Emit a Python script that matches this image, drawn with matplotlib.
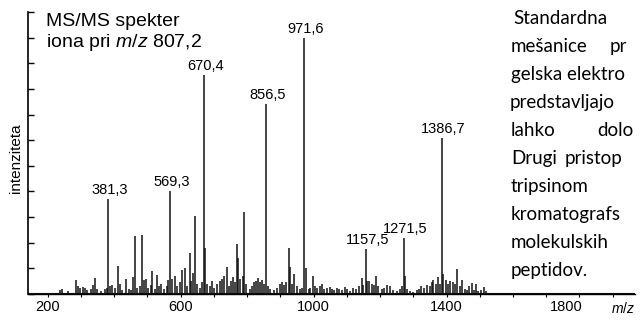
import numpy as np
import matplotlib.pyplot as plt
import matplotlib.transforms as mtransforms

plt.rcParams['font.family'] = ['Liberation Sans', 'DejaVu Sans']
plt.rcParams['mathtext.fontset'] = 'custom'
plt.rcParams['mathtext.it'] = 'Liberation Sans:italic'
plt.rcParams['mathtext.rm'] = 'Liberation Sans'

# peak list (m/z, relative intensity)
mz = [236, 243, 262, 285, 291, 298, 305, 312, 318, 330, 338, 342, 348, 360, 372, 378,
      381.3, 388, 395, 402, 412, 418, 425, 436, 446, 452, 458, 463, 470, 478, 485, 490,
      495, 502, 510, 515, 522, 528, 535, 542, 550, 558, 563, 569.3, 575, 582, 590, 598,
      604, 612, 620, 627, 632, 636, 642, 650, 658, 665, 670.4, 673, 680, 688, 695, 702,
      710, 718, 725, 732, 740, 746, 752, 758, 764, 770, 773, 780, 788, 791, 798, 808,
      815, 822, 828, 833, 838, 845, 850, 856.5, 862, 870, 880, 890, 898, 905, 912, 918,
      927, 930, 936, 942, 950, 958, 965, 971.6, 976, 985, 990, 997, 1003, 1010, 1018,
      1024, 1030, 1040, 1048, 1055, 1062, 1070, 1078, 1085, 1095, 1102, 1110, 1120,
      1128, 1138, 1145, 1150, 1157.5, 1162, 1167, 1175, 1182, 1188, 1195, 1205, 1212,
      1221, 1230, 1240, 1250, 1260, 1265, 1271.5, 1275, 1282, 1290, 1300, 1310, 1318,
      1324, 1332, 1340, 1350, 1355, 1360, 1368, 1373, 1380, 1386.7, 1390, 1398, 1404,
      1409, 1418, 1425, 1433, 1440, 1448, 1455, 1462, 1468, 1476, 1482, 1488, 1495,
      1503, 1512, 1520]
intensity = [1.6, 2.0, 1.0, 5.5, 3.0, 2.5, 2.8, 2.2, 1.5, 2.0, 3.5, 6.2, 2.0, 1.2, 1.8, 2.5,
             37, 3.0, 3.5, 2.2, 11, 4.0, 1.5, 6.0, 2.0, 1.5, 6.5, 22.5, 2.5, 3.0, 23, 5.5,
             6.0, 2.5, 3.5, 9, 2.0, 7.5, 3.0, 4.0, 2.0, 3.0, 5.5, 40, 6.0, 7.0, 3.0, 4.5,
             9.5, 10, 3.0, 16, 5.0, 8.2, 30.5, 4.0, 2.5, 4.5, 85.5, 18, 4.0, 3.0, 5.0, 2.5,
             4.0, 5.0, 6.0, 7.0, 10.5, 3.0, 5.0, 6.6, 4.5, 19.5, 14, 6.0, 7.0, 32, 4.0, 2.0,
             3.0, 4.5, 5.0, 6.2, 4.5, 5.5, 4.0, 74, 3.0, 2.0, 1.5, 2.5, 4.0, 4.5, 3.5, 4.5,
             18, 10.5, 4.0, 7.8, 3.0, 2.0, 2.5, 100, 10, 2.0, 2.5, 7.0, 3.0, 2.5, 3.0,
             4.0, 2.0, 2.5, 2.8, 2.0, 1.5, 2.5, 2.0, 1.5, 2.8, 2.0, 1.2, 2.5,
             1.8, 3.0, 6.2, 3.5, 17.5, 5.0, 5.0, 4.0, 3.5, 7.0, 3.0, 2.0, 2.5,
             3.5, 3.0, 1.5, 1.0, 2.0, 3.0, 22, 7.0, 2.0, 1.0, 0.8, 1.5, 2.0,
             3.0, 2.5, 3.5, 3.0, 4.5, 5.4, 4.0, 6.6, 4.0, 61, 7.8, 5.5, 4.0,
             5.0, 4.5, 4.0, 9.7, 3.0, 5.4, 2.0, 1.5, 3.0, 4.3, 1.5, 4.0, 1.0,
             1.5, 2.7, 1.0]

labeled = [381.3, 569.3, 670.4, 856.5, 971.6, 1157.5, 1271.5, 1386.7]

xticks = [200, 600, 1000, 1400, 1800]

text_lines = [
    ['Standardna'],
    ['mešanice', 'pr'],
    ['gelska elektro'],
    ['predstavljajo'],
    ['lahko', 'dolo'],
    ['Drugi', 'pristop'],
    ['tripsinom'],
    ['kromatografs'],
    ['molekulskih'],
    ['peptidov.'],
]
word_x = [[513], [511, 610], [511], [510], [511, 597], [511, 565], [511], [511], [511], [511]]

W, H = 641, 320
fig = plt.figure(figsize=(W / 100, H / 100), dpi=100)
ax = fig.add_axes([28 / W, 1 - 294 / H, 607 / W, 282 / H])

ax.vlines(mz, 0, intensity, color='#111111', linewidth=1.1)
ax.axhline(0.3, color='#111111', linewidth=0.8)

for m in labeled:
    h = intensity[mz.index(m)]
    ax.annotate(f'{m:.1f}'.replace('.', ','), (m, h), xytext=(1, 1.5),
                textcoords='offset points', ha='center', va='bottom', fontsize=10.5)

ax.set_xlim(141, 1967)
ax.set_ylim(0, 110)
ax.set_yticks(np.arange(0, 111, 10))
ax.set_yticklabels([])
ax.tick_params(axis='y', direction='in', length=4, width=1)
ax.set_xticks(xticks)
ax.set_xticklabels([str(t) for t in xticks], fontsize=10.5)
ax.set_xticks(np.arange(200, 1901, 100), minor=True)
ax.tick_params(axis='x', which='both', direction='out', length=2, width=0.8, pad=2.5)
for s in ['top', 'right']:
    ax.spines[s].set_visible(False)
ax.spines['left'].set_linewidth(1.2)
ax.spines['bottom'].set_linewidth(1.0)

# last tick label sits a bit to the left of its tick
lbl = ax.get_xticklabels()[-1]
lbl.set_transform(lbl.get_transform() + mtransforms.ScaledTranslation(-13 / 100, 0, fig.dpi_scale_trans))

ax.text(1930, -0.05, '$m/z$', transform=ax.get_xaxis_transform(), ha='center', va='center', fontsize=10)

fig.text(16 / W, 1 - 158 / H, 'intenziteta', rotation=90, ha='center', va='center', fontsize=11)

fig.text(46 / W, 1 - 26 / H, 'MS/MS spekter', fontsize=14, va='baseline')
fig.text(46 / W, 1 - 47 / H, 'iona pri $m/z$ 807,2', fontsize=14, va='baseline')

for i, (words, xs) in enumerate(zip(text_lines, word_x)):
    for w, x in zip(words, xs):
        fig.text(x / W, 1 - (24 + 28 * i) / H, w, fontsize=13.5, family='Lato',
                 va='baseline', ha='left')

fig.savefig('out.png', dpi=100)
